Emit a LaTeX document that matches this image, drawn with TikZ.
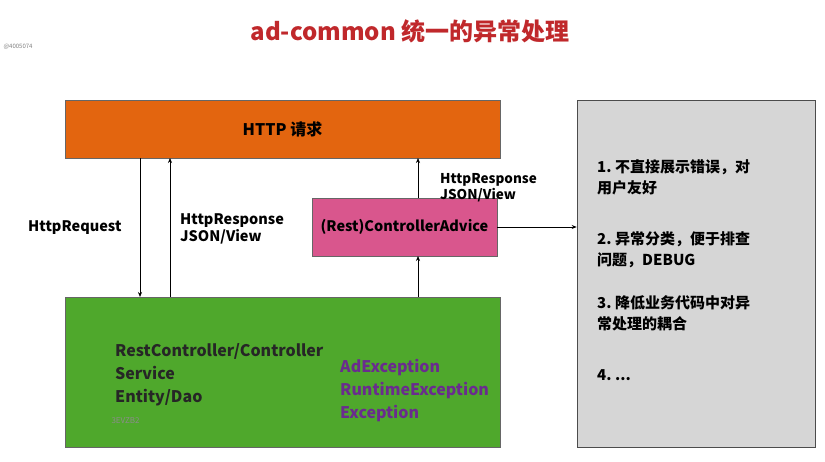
\documentclass[tikz,border=0pt]{standalone}
\usepackage{fontspec}
\setmainfont{Noto Sans CJK SC}
\usetikzlibrary{arrows.meta}
\definecolor{orng}{HTML}{E3650F}
\definecolor{grn}{HTML}{4FA82C}
\definecolor{pnk}{HTML}{D9568D}
\definecolor{gry}{HTML}{D6D6D6}
\definecolor{ttl}{HTML}{C0282B}
\definecolor{purp}{HTML}{6A2C8E}
\tikzset{box/.style={draw=black!60,line width=0.6pt,inner sep=0},
 lbl/.style={font=\bfseries\fontsize{14.5}{17}\selectfont,align=left,inner sep=0},
 arr/.style={-{Stealth[length=5pt,width=4pt]},line width=0.7pt}}
\begin{document}
\begin{tikzpicture}[x=1pt,y=-1pt]
\useasboundingbox[fill=white] (0,0) rectangle (825,462);
\node[font=\bfseries\fontsize{24}{28}\selectfont,text=ttl] (title) at (410,31) {ad-common 统一的异常处理};
\node[font=\fontsize{6}{7}\selectfont,text=gray,anchor=west] (wm) at (0,47) {@4005074};
\node[box,fill=orng,minimum width=435pt,minimum height=58pt,font=\bfseries\fontsize{16}{19}\selectfont] (http) at (282.5,129) {HTTP 请求};
\node[box,fill=grn,minimum width=435pt,minimum height=150pt] (app) at (282.5,372) {};
\node[box,fill=pnk,minimum width=185pt,minimum height=58pt,font=\bfseries\fontsize{14.5}{17}\selectfont] (adv) at (404.5,227) {(Rest)ControllerAdvice};
\node[box,fill=gry,draw=black!70,minimum width=238pt,minimum height=347pt] (note) at (696,273.5) {};
\draw[arr] (140,158) -- (140,297);
\draw[arr] (170,297) -- (170,158);
\draw[arr] (418,198) -- (418,158);
\draw[arr] (418,297) -- (418,256);
\draw[arr] (adv.east) -- (note.west|-adv.east);
\node[lbl,anchor=west] (lreq) at (28,228) {HttpRequest};
\node[lbl,anchor=west] (lresp) at (180,229) {HttpResponse\\JSON/View};
\node[lbl,anchor=west,font=\bfseries\fontsize{13.5}{16}\selectfont] (lresp2) at (440,188) {HttpResponse\\JSON/View};
\node[lbl,anchor=north west,font=\bfseries\fontsize{16}{23}\selectfont,text=black!85] (layers) at (115,343) {RestController/Controller\\Service\\Entity/Dao};
\node[lbl,anchor=north west,font=\bfseries\fontsize{16}{23}\selectfont,text=purp] (exc) at (340,359) {AdException\\RuntimeException\\Exception};
\node[font=\fontsize{8}{9}\selectfont,text=black!45,anchor=west] (wm2) at (108,421) {3EVZB2};
\node[lbl,anchor=north west,font=\bfseries\fontsize{15}{21}\selectfont] (pts) at (597,159) {1.\ 不直接展示错误，对\\用户友好\\[30pt]2.\ 异常分类，便于排查\\问题，DEBUG\\[22pt]3.\ 降低业务代码中对异\\常处理的耦合\\[30pt]4.\ ...};
\end{tikzpicture}
\end{document}
